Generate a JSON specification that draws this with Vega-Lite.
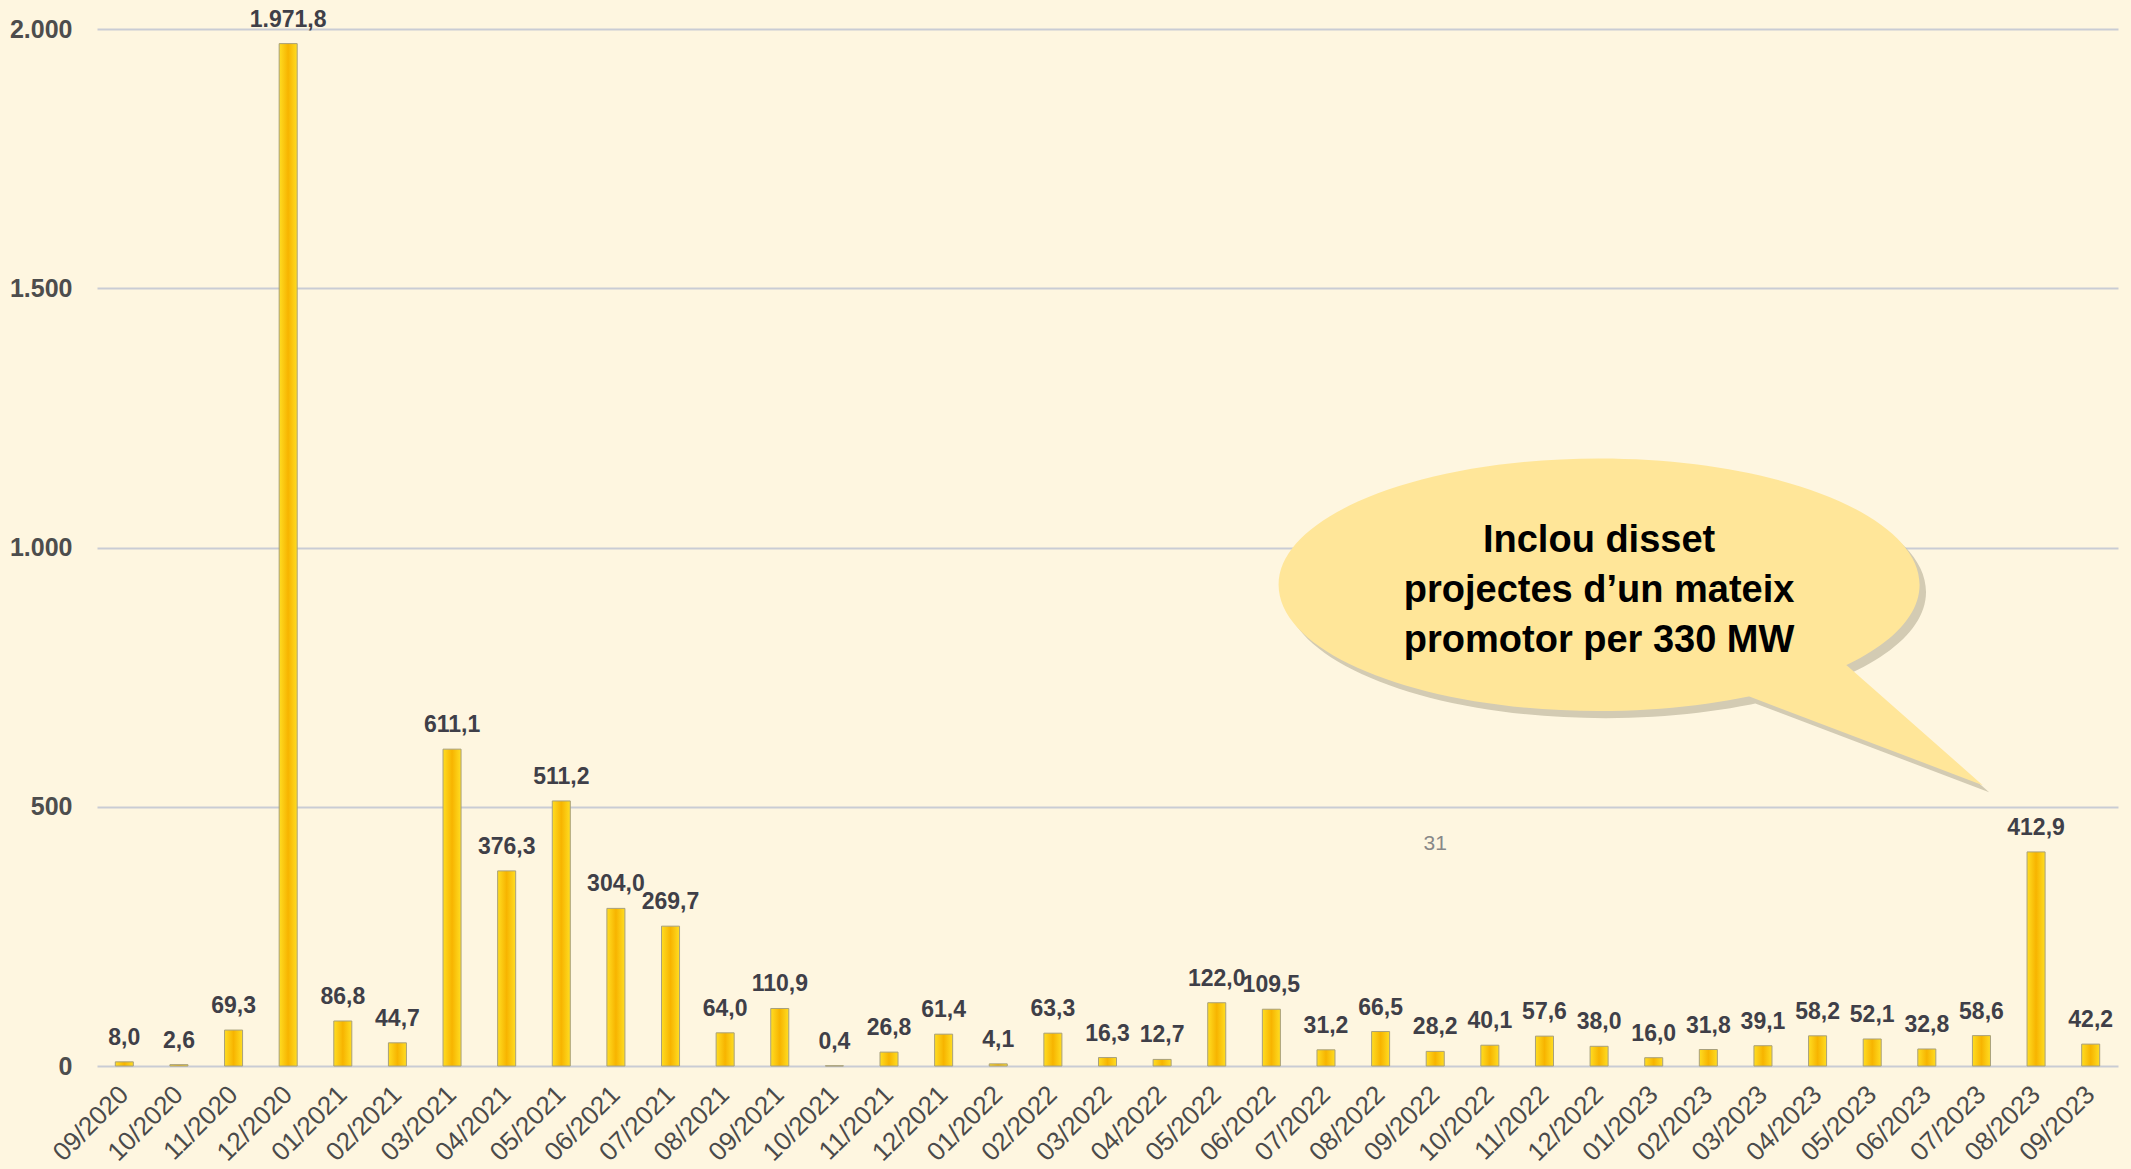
{
  "$schema": "https://vega.github.io/schema/vega-lite/v6.json",
  "width": 2021,
  "height": 1037,
  "autosize": {"type": "none"},
  "padding": {"left": 97, "top": 29, "right": 13, "bottom": 103},
  "background": "#FEF6E0",
  "config": {
    "view": {"stroke": null},
    "locale": {"number": {"decimal": ",", "thousands": ".", "grouping": [3], "currency": ["", " €"]}}
  },
  "datasets": {
    "main": [
      {"mes": "09/2020", "mw": 8.0},
      {"mes": "10/2020", "mw": 2.6},
      {"mes": "11/2020", "mw": 69.3},
      {"mes": "12/2020", "mw": 1971.8},
      {"mes": "01/2021", "mw": 86.8},
      {"mes": "02/2021", "mw": 44.7},
      {"mes": "03/2021", "mw": 611.1},
      {"mes": "04/2021", "mw": 376.3},
      {"mes": "05/2021", "mw": 511.2},
      {"mes": "06/2021", "mw": 304.0},
      {"mes": "07/2021", "mw": 269.7},
      {"mes": "08/2021", "mw": 64.0},
      {"mes": "09/2021", "mw": 110.9},
      {"mes": "10/2021", "mw": 0.4},
      {"mes": "11/2021", "mw": 26.8},
      {"mes": "12/2021", "mw": 61.4},
      {"mes": "01/2022", "mw": 4.1},
      {"mes": "02/2022", "mw": 63.3},
      {"mes": "03/2022", "mw": 16.3},
      {"mes": "04/2022", "mw": 12.7},
      {"mes": "05/2022", "mw": 122.0},
      {"mes": "06/2022", "mw": 109.5},
      {"mes": "07/2022", "mw": 31.2},
      {"mes": "08/2022", "mw": 66.5},
      {"mes": "09/2022", "mw": 28.2},
      {"mes": "10/2022", "mw": 40.1},
      {"mes": "11/2022", "mw": 57.6},
      {"mes": "12/2022", "mw": 38.0},
      {"mes": "01/2023", "mw": 16.0},
      {"mes": "02/2023", "mw": 31.8},
      {"mes": "03/2023", "mw": 39.1},
      {"mes": "04/2023", "mw": 58.2},
      {"mes": "05/2023", "mw": 52.1},
      {"mes": "06/2023", "mw": 32.8},
      {"mes": "07/2023", "mw": 58.6},
      {"mes": "08/2023", "mw": 412.9},
      {"mes": "09/2023", "mw": 42.2}
    ],
    "callout": [
      {"mes": "12/2022", "y": 928, "text": ["Inclou disset", "projectes d’un mateix", "promotor per 330 MW"]}
    ],
    "page": [
      {"mes": "09/2022", "y": 428, "text": "31"}
    ]
  },
  "encoding": {
    "x": {
      "field": "mes",
      "type": "nominal",
      "scale": {
        "domain": ["09/2020","10/2020","11/2020","12/2020","01/2021","02/2021","03/2021","04/2021","05/2021","06/2021","07/2021","08/2021","09/2021","10/2021","11/2021","12/2021","01/2022","02/2022","03/2022","04/2022","05/2022","06/2022","07/2022","08/2022","09/2022","10/2022","11/2022","12/2022","01/2023","02/2023","03/2023","04/2023","05/2023","06/2023","07/2023","08/2023","09/2023"],
        "paddingInner": 0.67,
        "paddingOuter": 0.335
      },
      "axis": {
        "title": null,
        "domain": false,
        "ticks": false,
        "labelAngle": -45,
        "labelAlign": "right",
        "labelBaseline": "middle",
        "labelPadding": 24,
        "labelFont": "Liberation Sans",
        "labelFontSize": 26,
        "labelColor": "#4A4A4A",
        "labelOverlap": false
      }
    }
  },
  "layer": [
    {
      "data": {"name": "main"},
      "mark": {
        "type": "bar",
        "stroke": "#A8A07C",
        "strokeWidth": 1,
        "color": {
          "gradient": "linear",
          "x1": 0, "x2": 1, "y1": 0, "y2": 0,
          "stops": [
            {"offset": 0, "color": "#FFDD22"},
            {"offset": 0.5, "color": "#F7B400"},
            {"offset": 1, "color": "#FFDD22"}
          ]
        }
      },
      "encoding": {
        "y": {
          "field": "mw",
          "type": "quantitative",
          "scale": {"domain": [0, 2000], "nice": false},
          "axis": {
            "title": null,
            "values": [0, 500, 1000, 1500, 2000],
            "format": ",d",
            "grid": true,
            "gridColor": "#C9CCD4",
            "gridWidth": 2,
            "domain": false,
            "ticks": false,
            "labelPadding": 25,
            "labelFont": "Liberation Sans",
            "labelFontSize": 25,
            "labelFontWeight": "bold",
            "labelColor": "#4D4D4D"
          }
        }
      }
    },
    {
      "data": {"name": "main"},
      "mark": {
        "type": "text",
        "baseline": "alphabetic",
        "dy": -17,
        "font": "Liberation Sans",
        "fontSize": 23,
        "fontWeight": "bold",
        "color": "#3F3F48"
      },
      "encoding": {
        "y": {"field": "mw", "type": "quantitative"},
        "text": {"field": "mw", "type": "quantitative", "format": ",.1f"}
      }
    },
    {
      "data": {"name": "callout"},
      "mark": {
        "type": "point",
        "filled": true,
        "opacity": 0.5,
        "color": "#A89F86",
        "size": 410881,
        "shape": "M -0.98 0.022 C -0.98 -0.1956 -0.5323 -0.372 0.02 -0.372 C 0.5723 -0.372 1.02 -0.1956 1.02 0.022 C 1.02 0.2396 0.5723 0.416 0.02 0.416 C -0.5323 0.416 -0.98 0.2396 -0.98 0.022 Z M 0.44 0.352 L 0.78 0.262 L 1.217 0.647 Z"
      },
      "encoding": {
        "y": {"field": "y", "type": "quantitative"}
      }
    },
    {
      "data": {"name": "callout"},
      "mark": {
        "type": "point",
        "filled": true,
        "opacity": 1,
        "color": "#FFE699",
        "size": 410881,
        "shape": "M -1 0 C -1 -0.2176 -0.5523 -0.394 0 -0.394 C 0.5523 -0.394 1 -0.2176 1 0 C 1 0.2176 0.5523 0.394 0 0.394 C -0.5523 0.394 -1 0.2176 -1 0 Z M 0.42 0.33 L 0.76 0.24 L 1.197 0.625 Z"
      },
      "encoding": {
        "y": {"field": "y", "type": "quantitative"}
      }
    },
    {
      "data": {"name": "callout"},
      "mark": {
        "type": "text",
        "align": "center",
        "baseline": "middle",
        "dy": -44,
        "lineHeight": 50,
        "font": "Liberation Sans",
        "fontSize": 38,
        "fontWeight": "bold",
        "color": "#000000"
      },
      "encoding": {
        "y": {"field": "y", "type": "quantitative"},
        "text": {"field": "text"}
      }
    },
    {
      "data": {"name": "page"},
      "mark": {
        "type": "text",
        "align": "center",
        "baseline": "middle",
        "font": "Liberation Sans",
        "fontSize": 21,
        "color": "#888888"
      },
      "encoding": {
        "y": {"field": "y", "type": "quantitative"},
        "text": {"field": "text"}
      }
    }
  ]
}
